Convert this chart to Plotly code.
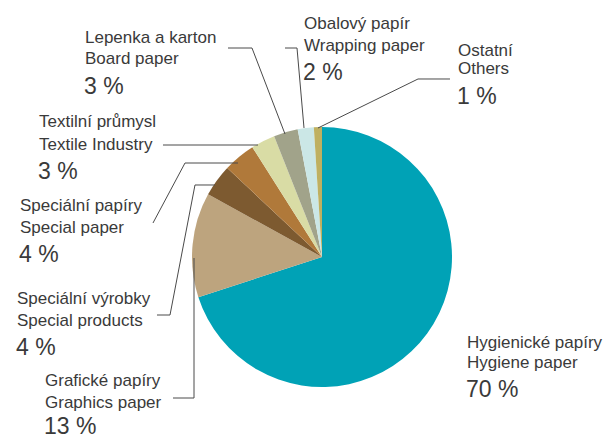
import plotly.graph_objects as go

W, H = 608, 439

# ---- data ----
names_cz = ["Hygienické papíry", "Grafické papíry", "Speciální výrobky", "Speciální papíry",
            "Textilní průmysl", "Lepenka a karton", "Obalový papír", "Ostatní"]
names_en = ["Hygiene paper", "Graphics paper", "Special products", "Special paper",
            "Textile Industry", "Board paper", "Wrapping paper", "Others"]
shares = [70, 13, 4, 4, 3, 3, 2, 1]

colors = ["#00A2B6", "#BDA47E", "#7D5A30", "#B0793A", "#D9DCA5", "#A1A38A", "#CBE7E6", "#BFB060"]

# ---- label layout (pixel positions: left x, centre y of the first line) ----
label_pos = [(465, 342), (43, 380), (15, 298), (18, 205), (37, 122), (83, 37), (302, 23), (456, 50)]
line_gap = [20, 22, 22, 22, 22, 22, 22, 19]
pct_gap = [27, 24, 27, 27, 27, 27, 27, 27]
leaders = [
    None,
    [(173, 398), (194, 398), (194, 258)],
    [(157, 315), (170, 315), (195, 185), (215, 185)],
    [(153, 223), (185, 163), (238, 163)],
    [(163, 145), (258, 145)],
    [(228, 48), (252, 48), (285, 134)],
    [(285, 48), (297, 48), (304, 128)],
    [(450, 79), (418, 79), (318, 128)],
]

def px(x):
    return x / W

def py(y):
    return 1 - y / H

fig = go.Figure(go.Pie(
    labels=names_en,
    values=shares,
    sort=False,
    direction="clockwise",
    rotation=0,
    marker=dict(colors=colors, line=dict(width=0)),
    textinfo="none",
    hoverinfo="label+percent",
    showlegend=False,
    domain=dict(x=[px(192), px(452)], y=[py(387), py(127)]),
))

font = "Liberation Sans, Arial, sans-serif"
tc = "#3a3a3a"
ann = []
for i in range(len(shares)):
    x0, y0 = label_pos[i]
    g = line_gap[i]
    ann.append(dict(x=px(x0), y=py(y0), text=names_cz[i], font=dict(family=font, size=17, color=tc)))
    ann.append(dict(x=px(x0), y=py(y0 + g), text=names_en[i], font=dict(family=font, size=17, color=tc)))
    ann.append(dict(x=px(x0 - 1), y=py(y0 + g + pct_gap[i]), text=f"{shares[i]} %",
                    font=dict(family=font, size=23, color=tc)))
for a in ann:
    a.update(xref="paper", yref="paper", xanchor="left", yanchor="middle", showarrow=False)

shapes = []
for pts in leaders:
    if not pts:
        continue
    path = "M " + " L ".join(f"{px(x):.5f},{py(y):.5f}" for x, y in pts)
    shapes.append(dict(type="path", path=path, xref="paper", yref="paper",
                       line=dict(color="#4a4a4a", width=1)))

fig.update_layout(
    width=W, height=H,
    margin=dict(l=0, r=0, t=0, b=0),
    paper_bgcolor="white",
    plot_bgcolor="white",
    annotations=ann,
    shapes=shapes,
)

fig.write_html("out.html")
